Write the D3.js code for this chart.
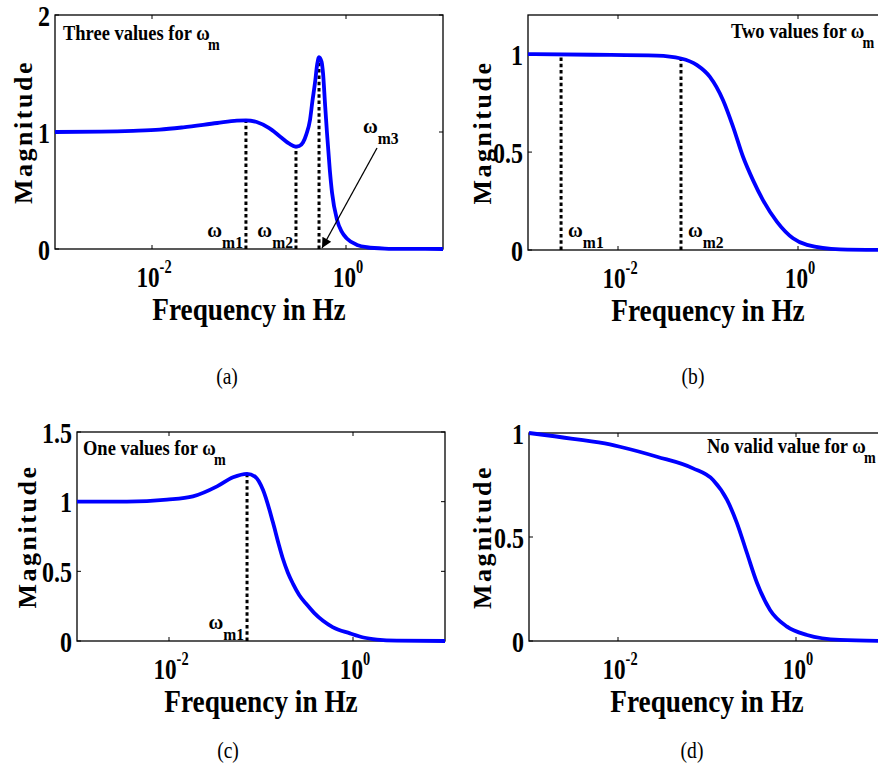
<!DOCTYPE html>
<html><head><meta charset="utf-8">
<script src="https://cdn.jsdelivr.net/npm/d3@7"></script>
<style>body{margin:0;background:#fff}svg{display:block}</style>
</head><body>
<svg id="chart" width="878" height="764"></svg>
<script>
// ---------- data ----------
const freqA = [0.001,0.003,0.0064,0.012,0.021,0.047,0.075,0.093,0.12,0.16,0.21,0.26,0.305,0.33,0.36,0.39,0.425,0.45,0.479,0.505,0.527,0.56,0.58,0.61,0.637,0.68,0.718,0.808,0.9,1.02,1.3,1.64,2.5,4,10];
const magA  = [1.0,1.003,1.01,1.02,1.04,1.077,1.097,1.10,1.085,1.035,0.96,0.90,0.875,0.88,0.91,0.98,1.10,1.26,1.42,1.58,1.64,1.60,1.50,1.22,0.99,0.68,0.48,0.25,0.15,0.09,0.035,0.015,0.004,0.001,0];

const freqB = [0.001,0.00525,0.0271,0.0501,0.0755,0.105,0.147,0.19,0.245,0.316,0.408,0.585,0.88,1.26,2.93,10];
const magB  = [1.0,0.997,0.993,0.978,0.944,0.884,0.765,0.629,0.476,0.357,0.255,0.144,0.06,0.026,0.003,0];

const freqC = [0.001,0.00349,0.0095,0.0182,0.0333,0.0497,0.0705,0.0861,0.105,0.135,0.155,0.173,0.196,0.223,0.26,0.316,0.38,0.472,0.6,0.927,1.3,1.82,3,10];
const magC  = [1.0,1.0,1.014,1.038,1.11,1.175,1.20,1.18,1.086,0.85,0.70,0.59,0.49,0.41,0.33,0.26,0.20,0.145,0.10,0.055,0.025,0.01,0.002,0];

const freqD = [0.001,0.00312,0.0081,0.0105,0.0274,0.0697,0.117,0.168,0.217,0.281,0.365,0.511,0.792,1.33,3.12,10];
const magD  = [1.0,0.972,0.945,0.934,0.886,0.83,0.774,0.678,0.567,0.423,0.279,0.149,0.069,0.029,0.005,0];

const markerFreqA = [0.093,0.305,0.527], markerMagA = [1.10,0.875,1.64], markerSubA = ["m1","m2","m3"];
const markerFreqB = [0.00233,0.0501],    markerMagB = [1.0,0.982],          markerSubB = ["m1","m2"];
const markerFreqC = [0.0705],            markerMagC = [1.20],               markerSubC = ["m1"];

const yTicksA = [0,1,2], yTicksB = [0,0.5,1], yTicksC = [0,0.5,1,1.5], yTicksD = [0,0.5,1];
const yDomainA = [0,2], yDomainB = [0,1.2], yDomainC = [0,1.5], yDomainD = [0,1];
const xTickExps = [-2,0];
const xDomain = [1e-3,1e1];
const titles = ["Three values for ","Two values for ","One values for ","No valid value for "];
const captions = ["(a)","(b)","(c)","(d)"];
const xLabel = "Frequency in Hz", yLabel = "Magnitude";

// ---------- layout ----------
const panels = [
  {box:[55,443,15,249],  freq:freqA, mag:magA, yDom:yDomainA, yTicks:yTicksA, title:titles[0], cap:captions[0],
   mF:markerFreqA, mM:markerMagA, mS:markerSubA, labelSide:"left", yLabX:23, titleX:63, titleY:40, capX:227, capY:384},
  {box:[528,888,15,250], freq:freqB, mag:magB, yDom:yDomainB, yTicks:yTicksB, title:titles[1], cap:captions[1],
   mF:markerFreqB, mM:markerMagB, mS:markerSubB, labelSide:"right", yLabX:482, titleX:731, titleY:38, capX:693, capY:384},
  {box:[77,445,432,641], freq:freqC, mag:magC, yDom:yDomainC, yTicks:yTicksC, title:titles[2], cap:captions[2],
   mF:markerFreqC, mM:markerMagC, mS:markerSubC, labelSide:"left", yLabX:27, titleX:83, titleY:455, capX:228, capY:758},
  {box:[529,885,433,641],freq:freqD, mag:magD, yDom:yDomainD, yTicks:yTicksD, title:titles[3], cap:captions[3],
   mF:[], mM:[], mS:[], labelSide:"left", yLabX:482, titleX:707, titleY:453, capX:692, capY:758}
];

const svg = d3.select("#chart");
const FONT = "'Liberation Serif','Times New Roman',serif";

svg.append("defs").append("marker")
  .attr("id","arrow").attr("viewBox","0 0 10 10").attr("refX",10).attr("refY",5)
  .attr("markerWidth",14).attr("markerHeight",10).attr("markerUnits","userSpaceOnUse")
  .attr("orient","auto")
  .append("path").attr("d","M0,0 L10,5 L0,10 z").attr("fill","#000");

function condText(g, x, y, sx, anchor, size, weight) {
  return g.append("g").attr("transform",`translate(${x},${y}) scale(${sx},1)`)
    .append("text").attr("text-anchor",anchor).attr("font-family",FONT)
    .attr("font-weight",weight||"bold").attr("font-size",size);
}

function omega(g, x, y, sub, anchor) {
  const t = condText(g, x, y, 0.92, anchor, 22);
  t.append("tspan").text("ω");
  t.append("tspan").attr("dy",11).attr("font-size",17).text(sub);
  return t;
}

panels.forEach((p,i) => {
  const [x0,x1,y0,y1] = p.box;
  const x = d3.scaleLog().domain(xDomain).range([x0,x1]);
  const y = d3.scaleLinear().domain(p.yDom).range([y1,y0]);
  const g = svg.append("g");

  // box
  g.append("rect").attr("x",x0).attr("y",y0).attr("width",x1-x0).attr("height",y1-y0)
    .attr("fill","none").attr("stroke","#000").attr("stroke-width",1.3);

  // x ticks (bottom & top, inward)
  xTickExps.forEach(e => {
    const xv = x(Math.pow(10,e));
    g.append("line").attr("x1",xv).attr("x2",xv).attr("y1",y1).attr("y2",y1-4).attr("stroke","#000");
    g.append("line").attr("x1",xv).attr("x2",xv).attr("y1",y0).attr("y2",y0+4).attr("stroke","#000");
    const t = condText(g, xv+2, y1+38, 0.8, "middle", 29);
    t.append("tspan").text("10");
    t.append("tspan").attr("dy",-14).attr("font-size",18).text(e<0 ? "-"+(-e) : String(e));
  });

  // y ticks (left & right, inward)
  p.yTicks.forEach(v => {
    const yv = y(v);
    g.append("line").attr("x1",x0).attr("x2",x0+4).attr("y1",yv).attr("y2",yv).attr("stroke","#000");
    g.append("line").attr("x1",x1).attr("x2",x1-4).attr("y1",yv).attr("y2",yv).attr("stroke","#000");
    condText(g, x0-5, yv, 0.8, "end", 30).attr("dy","0.36em").text(String(v));
  });

  // axis labels
  condText(g, (x0+x1)/2, y1+71, 0.88, "middle", 31).text(xLabel);
  g.append("text").attr("transform",`translate(${p.yLabX},${(y0+y1)/2}) rotate(-90)`)
    .attr("text-anchor","middle").attr("dy","0.35em").attr("font-family",FONT)
    .attr("font-weight","bold").attr("font-size",26).attr("letter-spacing",2.5).text(yLabel);

  // marker dotted lines
  p.mF.forEach((f,k) => {
    const xv = x(f);
    g.append("line").attr("x1",xv).attr("x2",xv).attr("y1",y(0)).attr("y2",y(p.mM[k]))
      .attr("stroke","#000").attr("stroke-width",3).attr("stroke-dasharray","3.5,2.8");
  });

  // curve
  const line = d3.line().x((d,k)=>x(p.freq[k])).y((d,k)=>y(p.mag[k])).curve(d3.curveMonotoneX);
  g.append("path").attr("d",line(p.mag)).attr("fill","none")
    .attr("stroke","#0000ff").attr("stroke-width",3.8);

  // marker labels
  p.mF.forEach((f,k) => {
    const xv = x(f);
    if (i===0 && k===2) {
      omega(g, xv+44, y1-116, p.mS[k], "start");
      g.append("line").attr("x1",xv+58).attr("y1",y1-101).attr("x2",xv+3).attr("y2",y1-1)
        .attr("stroke","#000").attr("stroke-width",1.3).attr("marker-end","url(#arrow)");
    } else if (p.labelSide==="right") {
      omega(g, xv+7, y1-13, p.mS[k], "start");
    } else {
      omega(g, xv-3, y1-12, p.mS[k], "end");
    }
  });

  // title
  const tt = condText(g, p.titleX, p.titleY, 0.88, "start", 21);
  tt.append("tspan").text(p.title);
  tt.append("tspan").text("ω");
  tt.append("tspan").attr("dy",10).attr("dx",-2).attr("font-size",16).text("m");

  // caption
  condText(svg, p.capX, p.capY, 0.85, "middle", 23, "normal").text(p.cap);
});
</script>
</body></html>
